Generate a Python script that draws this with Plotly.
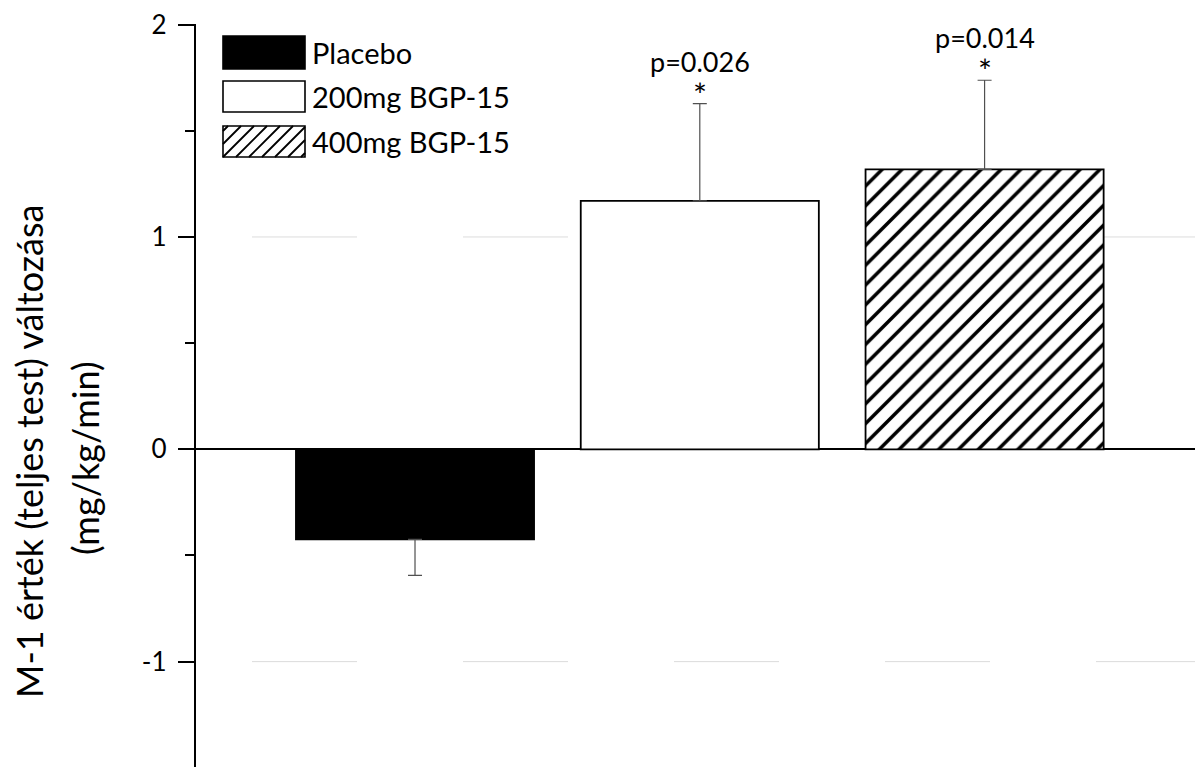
import plotly.graph_objects as go

categories = ["Placebo", "200mg BGP-15", "400mg BGP-15"]
values = [-0.424, 1.17, 1.318]
err_up = [0.0, 0.458, 0.42]
err_down = [0.17, 0.0, 0.0]
p_labels = ["", "p=0.026", "p=0.014"]
y_ticks = [-1, 0, 1, 2]
y_minor = [-0.5, 0.5, 1.5]
y_title_1 = "M-1 érték (teljes test) változása"
y_title_2 = "(mg/kg/min)"

FONT = "Lato"
W, H = 1203, 767
OFF = 8  # page body margin
ML, MR, MT, MB = 188, 0, 16, 0
PW, PH = W - ML - MR, H - MT - MB
Y_TOP = 2.0


def px(sx):
    return (sx - OFF - ML) / PW


def py(sy):
    return 1 - (sy - OFF - MT) / PH


fig = go.Figure()

fills = ["black", "white", "white"]
shapes_pat = ["", "", "/"]
for i, cat in enumerate(categories):
    marker = dict(color=fills[i], line=dict(color="black", width=1.8))
    if shapes_pat[i]:
        marker["pattern"] = dict(shape=shapes_pat[i], fgcolor="black", bgcolor="white",
                                 size=14, solidity=0.25, fgopacity=1, fillmode="overlay")
    fig.add_trace(go.Bar(
        x=[i], y=[values[i]], width=0.836, marker=marker,
        error_y=dict(type="data", symmetric=False, array=[err_up[i]], arrayminus=[err_down[i]],
                     color="#505050", thickness=1.2, width=7),
        showlegend=False, name=cat,
    ))

# significance annotations (p value with star underneath)
for i, lab in enumerate(p_labels):
    if not lab:
        continue
    top = values[i] + err_up[i]
    fig.add_annotation(x=i, y=top, text=f"{lab}<br><span style='font-size:33px'>*</span>",
                       showarrow=False, xref="x", yref="y", align="center",
                       yanchor="bottom", yshift=-12, font=dict(family=FONT, size=27, color="black"))

shapes = []
# faint gridlines
for gy in [1, -1]:
    shapes.append(dict(type="line", xref="paper", yref="y", x0=px(252), x1=1, y0=gy, y1=gy,
                       line=dict(color="#dcdcdc", width=1, dash="105px,106px"), layer="below"))

# legend swatches
box_x0, box_x1 = 223, 305
rows = [(36, 69), (81, 112), (126, 157)]
for i, (y0, y1) in enumerate(rows):
    shapes.append(dict(type="rect", xref="paper", yref="paper",
                       x0=px(box_x0), x1=px(box_x1), y0=py(y1), y1=py(y0),
                       fillcolor=fills[i], line=dict(color="black", width=1.6)))
    if shapes_pat[i] == "/":
        step = 13
        path = ""
        c = box_x0 + y0 + 5
        while c < box_x1 + y1:
            ya = min(y1, c - box_x0)
            xa = c - ya
            yb = max(y0, c - box_x1)
            xb = c - yb
            if xa <= box_x1 and xb >= box_x0:
                path += f"M{px(xa)},{py(ya)} L{px(xb)},{py(yb)} "
            c += step
        shapes.append(dict(type="path", xref="paper", yref="paper", path=path,
                           line=dict(color="black", width=1.8)))
    fig.add_annotation(x=px(310), y=py((y0 + y1) / 2), xref="paper", yref="paper",
                       text=categories[i], showarrow=False, xanchor="left", yanchor="middle",
                       font=dict(family=FONT, size=29, color="black"))

# y title (two lines, rotated)
fig.add_annotation(x=px(29), y=py(452), xref="paper", yref="paper", text=y_title_1,
                   textangle=-90, showarrow=False, xanchor="center", yanchor="middle",
                   font=dict(family=FONT, size=36, color="black"))
fig.add_annotation(x=px(85), y=py(458), xref="paper", yref="paper", text=y_title_2,
                   textangle=-90, showarrow=False, xanchor="center", yanchor="middle",
                   font=dict(family=FONT, size=36, color="black"))

fig.update_layout(
    width=W, height=H,
    margin=dict(l=ML, r=MR, t=MT, b=MB),
    plot_bgcolor="white", paper_bgcolor="white",
    shapes=shapes,
    barmode="overlay",
    xaxis=dict(range=[-0.769, 2.795], showticklabels=False, showgrid=False,
               zeroline=False, showline=False, ticks=""),
    yaxis=dict(range=[-1.534, Y_TOP + 0.003], tickvals=y_ticks, ticktext=[str(t) for t in y_ticks],
               showgrid=False, zeroline=True, zerolinecolor="black", zerolinewidth=2.4,
               showline=True, linecolor="black", linewidth=2.4,
               ticks="outside", ticklen=16, tickwidth=2.2, tickcolor="black",
               minor=dict(tickvals=y_minor, ticks="outside", ticklen=9,
                          tickwidth=1.8, tickcolor="black"),
               ticklabeloverflow="allow",
               tickfont=dict(family=FONT, size=26, color="black"), ticklabelstandoff=6),
)

fig.write_html("out.html")
